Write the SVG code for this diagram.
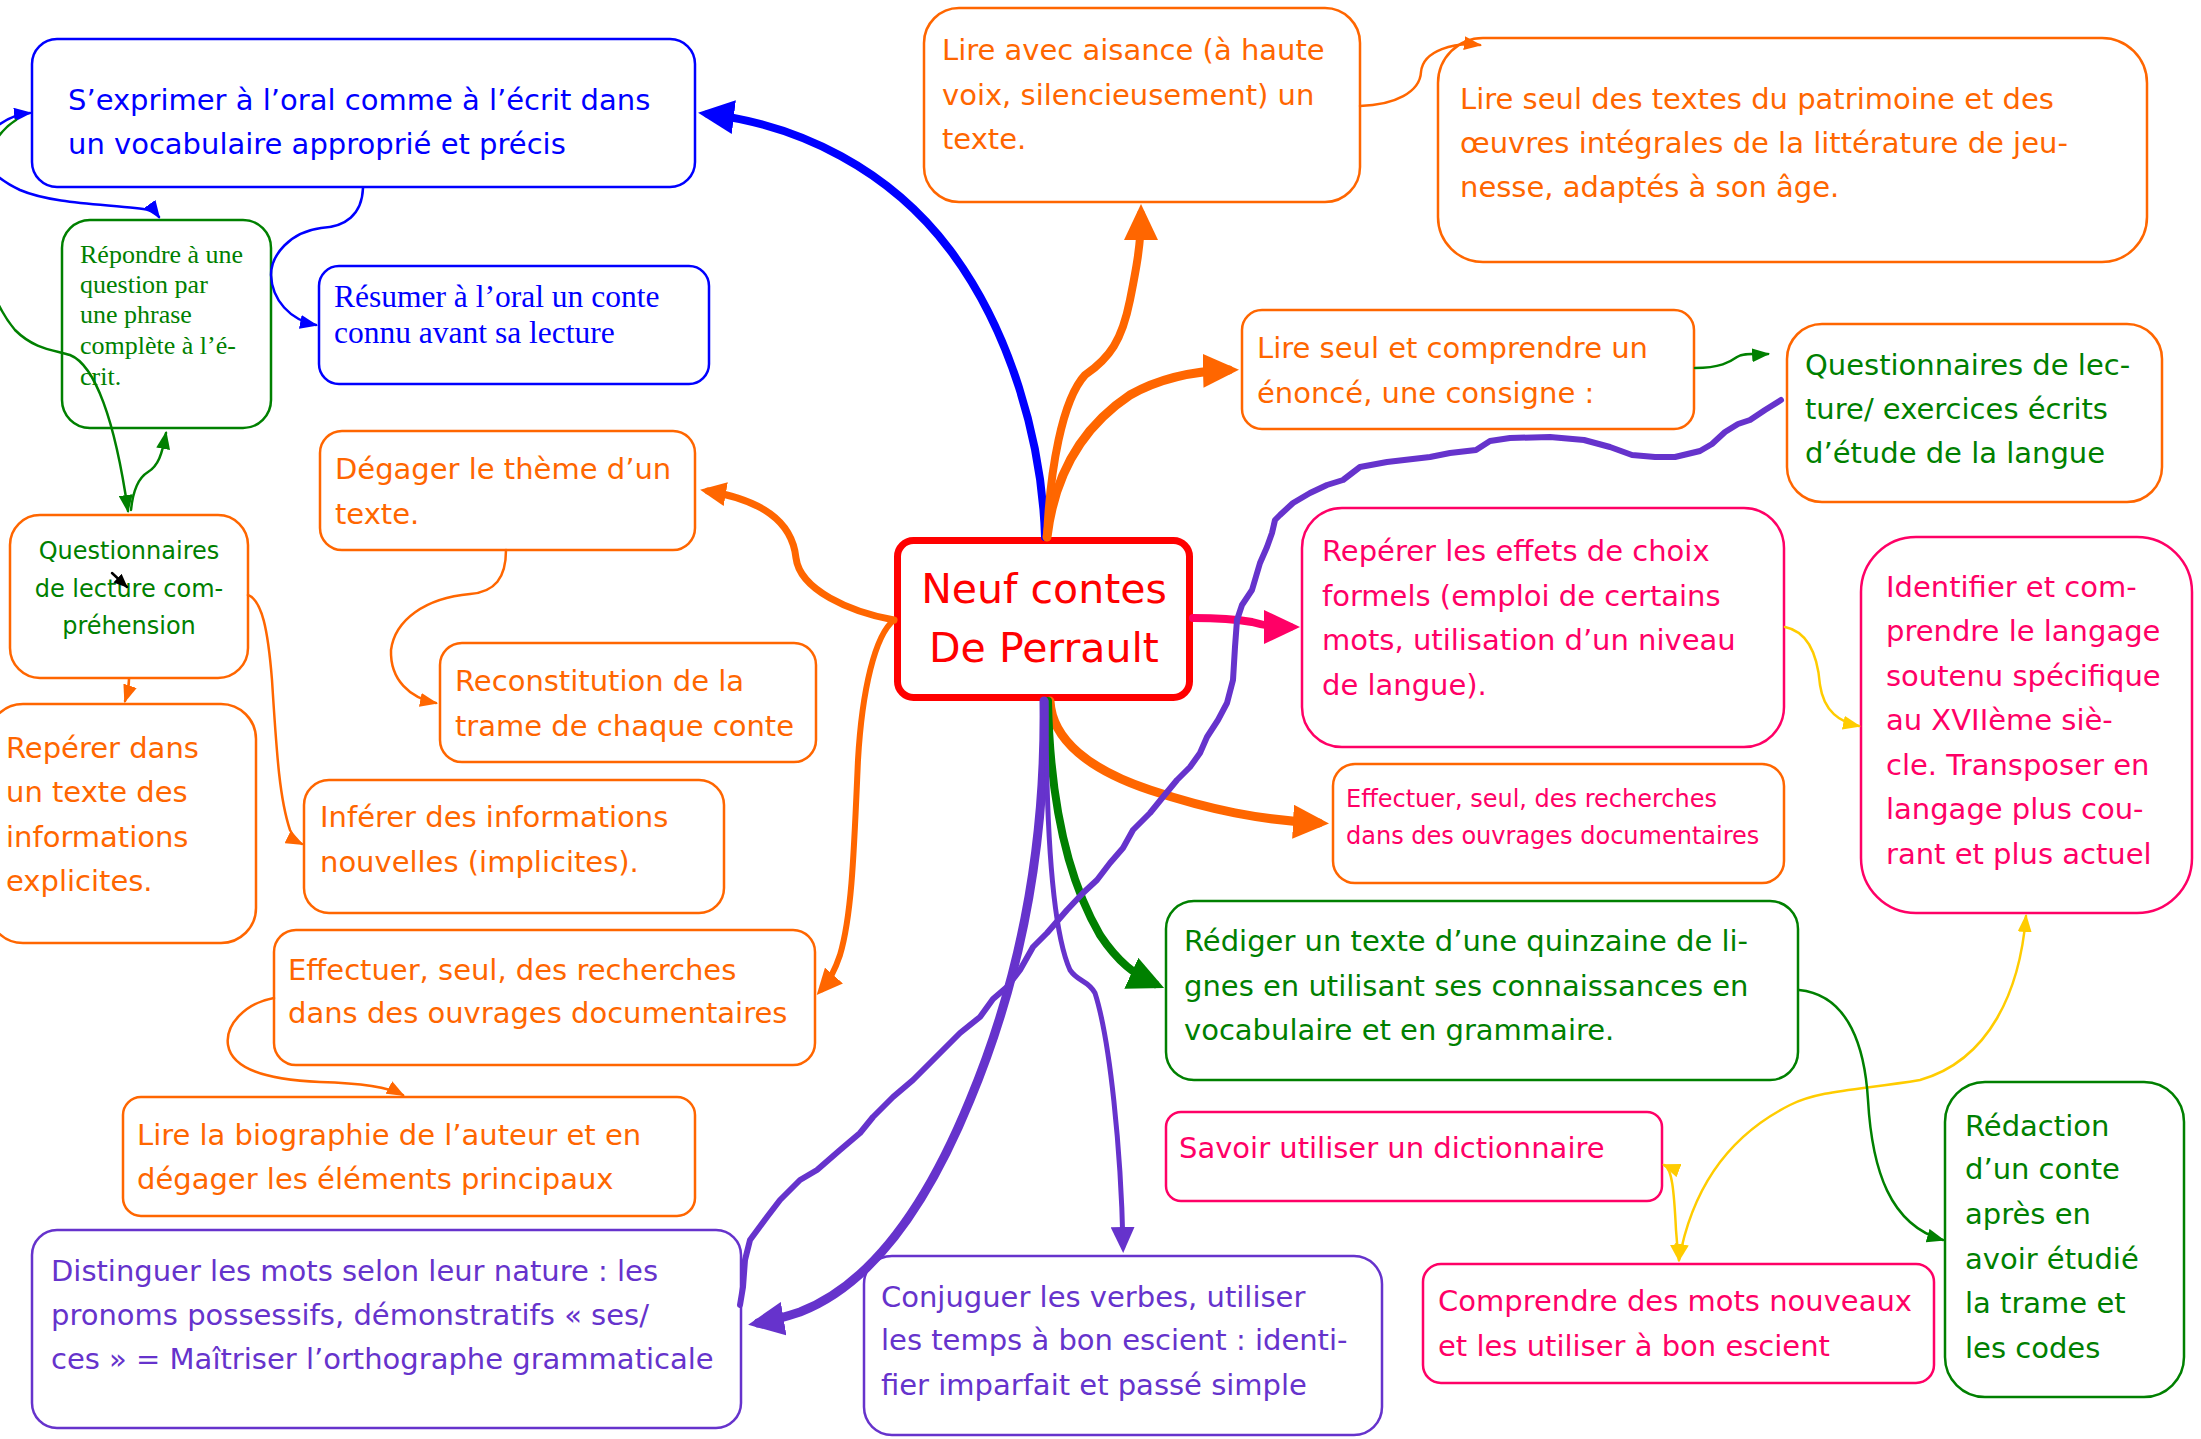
<svg xmlns="http://www.w3.org/2000/svg" width="2201" height="1439" viewBox="0 0 2201 1439">
<style>
.box{fill:#fff;stroke-width:2.5}
.sOr{stroke:#FF6600}.sBl{stroke:#0000FF}.sGr{stroke:#008000}.sPk{stroke:#FF0066}.sPu{stroke:#6633CC}
.t{font-family:"DejaVu Sans",Verdana,sans-serif;font-size:29px}
.t.sm{font-size:24px}
.t.big{font-size:41px}
.serif{font-family:"Liberation Serif","Times New Roman",serif}
.cOr{fill:#FF6600}.cBl{fill:#0000FF}.cGr{fill:#008000}.cPk{fill:#FF0066}.cPu{fill:#6633CC}.cRd{fill:#FF0000}
.ln{fill:none;stroke-linecap:round;stroke-linejoin:round}
</style>
<defs>
<marker id="bBl" viewBox="0 0 36 34" markerWidth="36" markerHeight="34" refX="26" refY="17" orient="auto" markerUnits="userSpaceOnUse"><path d="M0,0 L36,17 L0,34 Z" fill="#0000FF"/></marker>
<marker id="bOr" viewBox="0 0 36 34" markerWidth="36" markerHeight="34" refX="26" refY="17" orient="auto" markerUnits="userSpaceOnUse"><path d="M0,0 L36,17 L0,34 Z" fill="#FF6600"/></marker>
<marker id="bPk" viewBox="0 0 36 34" markerWidth="36" markerHeight="34" refX="26" refY="17" orient="auto" markerUnits="userSpaceOnUse"><path d="M0,0 L36,17 L0,34 Z" fill="#FF0066"/></marker>
<marker id="bGr" viewBox="0 0 36 34" markerWidth="36" markerHeight="34" refX="26" refY="17" orient="auto" markerUnits="userSpaceOnUse"><path d="M0,0 L36,17 L0,34 Z" fill="#008000"/></marker>
<marker id="bPu" viewBox="0 0 36 34" markerWidth="36" markerHeight="34" refX="26" refY="17" orient="auto" markerUnits="userSpaceOnUse"><path d="M0,0 L36,17 L0,34 Z" fill="#6633CC"/></marker>
<marker id="mOr" viewBox="0 0 26 24" markerWidth="26" markerHeight="24" refX="18" refY="12" orient="auto" markerUnits="userSpaceOnUse"><path d="M0,0 L26,12 L0,24 Z" fill="#FF6600"/></marker>
<marker id="mPu" viewBox="0 0 26 24" markerWidth="26" markerHeight="24" refX="18" refY="12" orient="auto" markerUnits="userSpaceOnUse"><path d="M0,0 L26,12 L0,24 Z" fill="#6633CC"/></marker>
<marker id="sBl" viewBox="0 0 18 14" markerWidth="18" markerHeight="14" refX="16" refY="7" orient="auto-start-reverse" markerUnits="userSpaceOnUse"><path d="M0,0 L18,7 L0,14 Z" fill="#0000FF"/></marker>
<marker id="sGr" viewBox="0 0 18 14" markerWidth="18" markerHeight="14" refX="16" refY="7" orient="auto-start-reverse" markerUnits="userSpaceOnUse"><path d="M0,0 L18,7 L0,14 Z" fill="#008000"/></marker>
<marker id="sOr" viewBox="0 0 18 14" markerWidth="18" markerHeight="14" refX="16" refY="7" orient="auto-start-reverse" markerUnits="userSpaceOnUse"><path d="M0,0 L18,7 L0,14 Z" fill="#FF6600"/></marker>
<marker id="sYe" viewBox="0 0 18 14" markerWidth="18" markerHeight="14" refX="16" refY="7" orient="auto-start-reverse" markerUnits="userSpaceOnUse"><path d="M0,0 L18,7 L0,14 Z" fill="#FFCC00"/></marker>
<marker id="sBk" viewBox="0 0 14 12" markerWidth="14" markerHeight="12" refX="13" refY="6" orient="auto" markerUnits="userSpaceOnUse"><path d="M0,0 L14,6 L0,12 Z" fill="#000"/></marker>
</defs>
<rect x="0" y="0" width="2201" height="1439" fill="#fff"/>

<g id="nA"><rect class="box sBl" x="32" y="39" width="663" height="148" rx="25"/>
<text class="t cBl"><tspan x="68" y="110">S’exprimer à l’oral comme à l’écrit dans</tspan><tspan x="68" y="154">un vocabulaire approprié et précis</tspan></text></g>

<g id="nB"><rect class="box sGr" x="62" y="220" width="209" height="208" rx="28"/>
<text class="serif cGr" font-size="26"><tspan x="80" y="263">Répondre à une</tspan><tspan x="80" y="293">question par</tspan><tspan x="80" y="323">une phrase</tspan><tspan x="80" y="354">complète à l’é-</tspan><tspan x="80" y="385">crit.</tspan></text></g>

<g id="nC"><rect class="box sBl" x="319" y="266" width="390" height="118" rx="20"/>
<text class="serif cBl" font-size="31.5"><tspan x="334" y="307">Résumer à l’oral un conte</tspan><tspan x="334" y="343">connu avant sa lecture</tspan></text></g>

<g id="nD"><rect class="box sOr" x="320" y="431" width="375" height="119" rx="22"/>
<text class="t cOr"><tspan x="335" y="479">Dégager le thème d’un</tspan><tspan x="335" y="524">texte.</tspan></text></g>

<g id="nE"><rect class="box sOr" x="440" y="643" width="376" height="119" rx="22"/>
<text class="t cOr"><tspan x="455" y="691">Reconstitution de la</tspan><tspan x="455" y="736">trame de chaque conte</tspan></text></g>

<g id="nF"><rect class="box sOr" x="10" y="515" width="238" height="163" rx="30"/>
<text class="t sm cGr" text-anchor="middle"><tspan x="129" y="559">Questionnaires</tspan><tspan x="129" y="597">de lecture com-</tspan><tspan x="129" y="634">préhension</tspan></text></g>

<g id="nG"><rect class="box sOr" x="-12" y="704" width="268" height="239" rx="35"/>
<text class="t cOr"><tspan x="6" y="758">Repérer dans</tspan><tspan x="6" y="802">un texte des</tspan><tspan x="6" y="847">informations</tspan><tspan x="6" y="891">explicites.</tspan></text></g>

<g id="nH"><rect class="box sOr" x="304" y="780" width="420" height="133" rx="25"/>
<text class="t cOr"><tspan x="320" y="827">Inférer des informations</tspan><tspan x="320" y="872">nouvelles (implicites).</tspan></text></g>

<g id="nI"><rect class="box sOr" x="274" y="930" width="541" height="135" rx="22"/>
<text class="t cOr"><tspan x="288" y="980">Effectuer, seul, des recherches</tspan><tspan x="288" y="1023">dans des ouvrages documentaires</tspan></text></g>

<g id="nJ"><rect class="box sOr" x="123" y="1097" width="572" height="119" rx="18"/>
<text class="t cOr"><tspan x="137" y="1145">Lire la biographie de l’auteur et en</tspan><tspan x="137" y="1189">dégager les éléments principaux</tspan></text></g>

<g id="nK"><rect class="box sPu" x="32" y="1230" width="709" height="198" rx="25"/>
<text class="t cPu"><tspan x="51" y="1281">Distinguer les mots selon leur nature : les</tspan><tspan x="51" y="1325">pronoms possessifs, démonstratifs « ses/</tspan><tspan x="51" y="1369">ces » = Maîtriser l’orthographe grammaticale</tspan></text></g>

<g id="nL"><rect class="box sPu" x="864" y="1256" width="518" height="179" rx="28"/>
<text class="t cPu"><tspan x="881" y="1307">Conjuguer les verbes, utiliser</tspan><tspan x="881" y="1350">les temps à bon escient : identi-</tspan><tspan x="881" y="1395">fier imparfait et passé simple</tspan></text></g>

<g id="nM"><rect x="897.5" y="540.5" width="292" height="157" rx="16" fill="#fff" stroke="#FF0000" stroke-width="7"/>
<text class="t big cRd" text-anchor="middle"><tspan x="1044" y="603">Neuf contes</tspan><tspan x="1044" y="662">De Perrault</tspan></text></g>

<g id="nN"><rect class="box sOr" x="924" y="8" width="436" height="194" rx="35"/>
<text class="t cOr"><tspan x="942" y="60">Lire avec aisance (à haute</tspan><tspan x="942" y="105">voix, silencieusement) un</tspan><tspan x="942" y="149">texte.</tspan></text></g>

<g id="nO"><rect class="box sOr" x="1438" y="38" width="709" height="224" rx="45"/>
<text class="t cOr"><tspan x="1460" y="109">Lire seul des textes du patrimoine et des</tspan><tspan x="1460" y="153">œuvres intégrales de la littérature de jeu-</tspan><tspan x="1460" y="197">nesse, adaptés à son âge.</tspan></text></g>

<g id="nP"><rect class="box sOr" x="1242" y="310" width="452" height="119" rx="20"/>
<text class="t cOr"><tspan x="1257" y="358">Lire seul et comprendre un</tspan><tspan x="1257" y="403">énoncé, une consigne :</tspan></text></g>

<g id="nQ"><rect class="box sOr" x="1787" y="324" width="375" height="178" rx="35"/>
<text class="t cGr"><tspan x="1805" y="375">Questionnaires de lec-</tspan><tspan x="1805" y="419">ture/ exercices écrits</tspan><tspan x="1805" y="463">d’étude de la langue</tspan></text></g>

<g id="nR"><rect class="box sPk" x="1302" y="508" width="482" height="239" rx="40"/>
<text class="t cPk"><tspan x="1322" y="561">Repérer les effets de choix</tspan><tspan x="1322" y="606">formels (emploi de certains</tspan><tspan x="1322" y="650">mots, utilisation d’un niveau</tspan><tspan x="1322" y="695">de langue).</tspan></text></g>

<g id="nS"><rect class="box sPk" x="1861" y="537" width="331" height="376" rx="55"/>
<text class="t cPk"><tspan x="1886" y="597">Identifier et com-</tspan><tspan x="1886" y="641">prendre le langage</tspan><tspan x="1886" y="686">soutenu spécifique</tspan><tspan x="1886" y="730">au XVIIème siè-</tspan><tspan x="1886" y="775">cle. Transposer en</tspan><tspan x="1886" y="819">langage plus cou-</tspan><tspan x="1886" y="864">rant et plus actuel</tspan></text></g>

<g id="nT"><rect class="box sOr" x="1333" y="764" width="451" height="119" rx="22"/>
<text class="t sm cPk"><tspan x="1346" y="807">Effectuer, seul, des recherches</tspan><tspan x="1346" y="844">dans des ouvrages documentaires</tspan></text></g>

<g id="nU"><rect class="box sGr" x="1166" y="901" width="632" height="179" rx="28"/>
<text class="t cGr"><tspan x="1184" y="951">Rédiger un texte d’une quinzaine de li-</tspan><tspan x="1184" y="996">gnes en utilisant ses connaissances en</tspan><tspan x="1184" y="1040">vocabulaire et en grammaire.</tspan></text></g>

<g id="nV"><rect class="box sPk" x="1166" y="1112" width="496" height="89" rx="15"/>
<text class="t cPk"><tspan x="1179" y="1158">Savoir utiliser un dictionnaire</tspan></text></g>

<g id="nW"><rect class="box sPk" x="1423" y="1264" width="511" height="119" rx="18"/>
<text class="t cPk"><tspan x="1438" y="1311">Comprendre des mots nouveaux</tspan><tspan x="1438" y="1356">et les utiliser à bon escient</tspan></text></g>

<g id="nX"><rect class="box sGr" x="1945" y="1082" width="239" height="315" rx="40"/>
<text class="t cGr"><tspan x="1965" y="1136">Rédaction</tspan><tspan x="1965" y="1179">d’un conte</tspan><tspan x="1965" y="1224">après en</tspan><tspan x="1965" y="1269">avoir étudié</tspan><tspan x="1965" y="1313">la trame et</tspan><tspan x="1965" y="1358">les codes</tspan></text></g>

<g id="connectors" class="ln">
<path d="M1045,537 C1042,440 1010,330 950,250 C890,170 800,125 708,114" stroke="#0000FF" stroke-width="8" fill="none" marker-end="url(#bBl)"/>
<path d="M1047,537 C1050,470 1062,400 1085,375 C1110,358 1122,340 1130,300 C1136,270 1141,245 1141,214" stroke="#FF6600" stroke-width="8" fill="none" marker-end="url(#bOr)"/>
<path d="M1047,537 C1055,470 1085,425 1130,395 C1160,378 1195,371 1229,370" stroke="#FF6600" stroke-width="9" fill="none" marker-end="url(#bOr)"/>
<path d="M894,620 C850,612 800,590 796,558 C792,520 760,500 708,491" stroke="#FF6600" stroke-width="7" fill="none" marker-end="url(#mOr)"/>
<path d="M894,620 C875,635 862,690 858,760 C854,850 852,915 840,955 C835,970 830,980 822,989" stroke="#FF6600" stroke-width="6" fill="none" marker-end="url(#mOr)"/>
<path d="M1193,618 C1215,618 1235,619 1252,622 C1265,626 1278,627 1290,627" stroke="#FF0066" stroke-width="8" fill="none" marker-end="url(#bPk)"/>
<path d="M1050,701 C1052,740 1090,770 1150,790 C1210,810 1260,820 1319,823" stroke="#FF6600" stroke-width="9" fill="none" marker-end="url(#bOr)"/>
<path d="M1048,701 C1050,800 1068,880 1100,935 C1118,962 1135,975 1155,984" stroke="#008000" stroke-width="8" fill="none" marker-end="url(#bGr)"/>
<path d="M1044,701 C1046,850 1020,980 970,1100 C925,1210 870,1285 800,1312 C782,1318 770,1321 758,1323" stroke="#6633CC" stroke-width="9" fill="none" marker-end="url(#bPu)"/>
<path d="M1046,701 C1046,820 1052,930 1070,970 C1078,982 1088,980 1095,993 C1110,1040 1121,1150 1123,1245" stroke="#6633CC" stroke-width="5" fill="none" marker-end="url(#mPu)"/>
<path d="M740,1305 L743,1287 L745,1260 L750,1240 L767,1217 L780,1200 L800,1180 L817,1170 L840,1150 L860,1133 L873,1117 L893,1097 L913,1080 L933,1060 L960,1033 L980,1017 L993,999 L1007,987 L1020,970 L1033,947 L1047,933 L1067,910 L1083,893 L1097,880 L1110,863 L1123,848 L1133,830 L1150,813 L1163,797 L1177,780 L1190,767 L1200,753 L1207,737 L1218,720 L1227,703 L1233,680 L1235,647 L1237,620 L1242,605 L1252,590 L1260,563 L1267,547 L1272,533 L1275,520 L1280,515 L1293,503 L1310,493 L1327,485 L1343,480 L1360,467 L1387,462 L1430,457 L1450,453 L1476,450 L1490,441 L1510,438 L1550,437 L1584,440 L1610,447 L1632,455 L1655,457 L1675,457 L1700,451 L1712,444 L1725,432 L1738,424 L1750,420 L1765,410 L1781,400" stroke="#6633CC" stroke-width="6" fill="none"/>
<path d="M363,188 C362,215 345,227 321,228 C290,232 271,255 271,275 C272,300 290,320 316,325" stroke="#0000FF" stroke-width="2.5" fill="none" marker-end="url(#sBl)"/>
<path d="M30,113 C10,115 -5,125 -15,140 C-25,160 -5,178 20,190 C50,203 100,204 135,208 C145,209 154,210 159,217" stroke="#0000FF" stroke-width="2.5" fill="none" marker-start="url(#sBl)" marker-end="url(#sBl)"/>
<path d="M16,120 C0,130 -15,150 -20,190 C-25,250 -10,300 15,330 C35,350 55,350 70,355 C95,365 115,420 128,511" stroke="#008000" stroke-width="2.5" fill="none" marker-end="url(#sGr)"/>
<path d="M131,510 C133,490 138,478 148,472 C158,466 162,455 166,433" stroke="#008000" stroke-width="2.5" fill="none" marker-end="url(#sGr)"/>
<path d="M506,550 C506,578 495,592 470,594 C425,598 395,620 391,650 C390,680 410,698 436,703" stroke="#FF6600" stroke-width="2.5" fill="none" marker-end="url(#sOr)"/>
<path d="M129,679 C129,690 127,695 125,701" stroke="#FF6600" stroke-width="2.5" fill="none" marker-end="url(#sOr)"/>
<path d="M248,595 C262,600 268,630 272,680 C277,760 280,800 290,830 C294,838 298,842 302,844" stroke="#FF6600" stroke-width="2.5" fill="none" marker-end="url(#sOr)"/>
<path d="M274,998 C245,1003 225,1025 228,1045 C232,1070 270,1080 320,1082 C360,1083 390,1088 403,1095" stroke="#FF6600" stroke-width="2.5" fill="none" marker-end="url(#sOr)"/>
<path d="M1360,106 C1395,105 1420,92 1421,72 C1423,50 1455,42 1480,45" stroke="#FF6600" stroke-width="2.5" fill="none" marker-end="url(#sOr)"/>
<path d="M1695,368 C1720,368 1730,362 1737,357 C1745,352 1755,355 1768,354" stroke="#008000" stroke-width="2.5" fill="none" marker-end="url(#sGr)"/>
<path d="M1785,627 C1810,632 1818,660 1820,685 C1824,712 1840,722 1859,726" stroke="#FFCC00" stroke-width="2.5" fill="none" marker-end="url(#sYe)"/>
<path d="M2026,916 C2020,990 1990,1060 1920,1080 C1860,1090 1820,1090 1790,1105 C1720,1140 1690,1200 1679,1260" stroke="#FFCC00" stroke-width="2.5" fill="none" marker-start="url(#sYe)" marker-end="url(#sYe)"/>
<path d="M1664,1165 C1672,1168 1674,1190 1676,1230 C1677,1245 1678,1252 1679,1260" stroke="#FFCC00" stroke-width="2.5" fill="none" marker-start="url(#sYe)" marker-end="url(#sYe)"/>
<path d="M1799,990 C1850,995 1865,1050 1868,1100 C1872,1170 1890,1225 1943,1240" stroke="#008000" stroke-width="2.5" fill="none" marker-end="url(#sGr)"/>
<path d="M112,573 L127,587" stroke="#000" stroke-width="2.5" fill="none" marker-end="url(#sBk)"/>
</g>
</svg>
